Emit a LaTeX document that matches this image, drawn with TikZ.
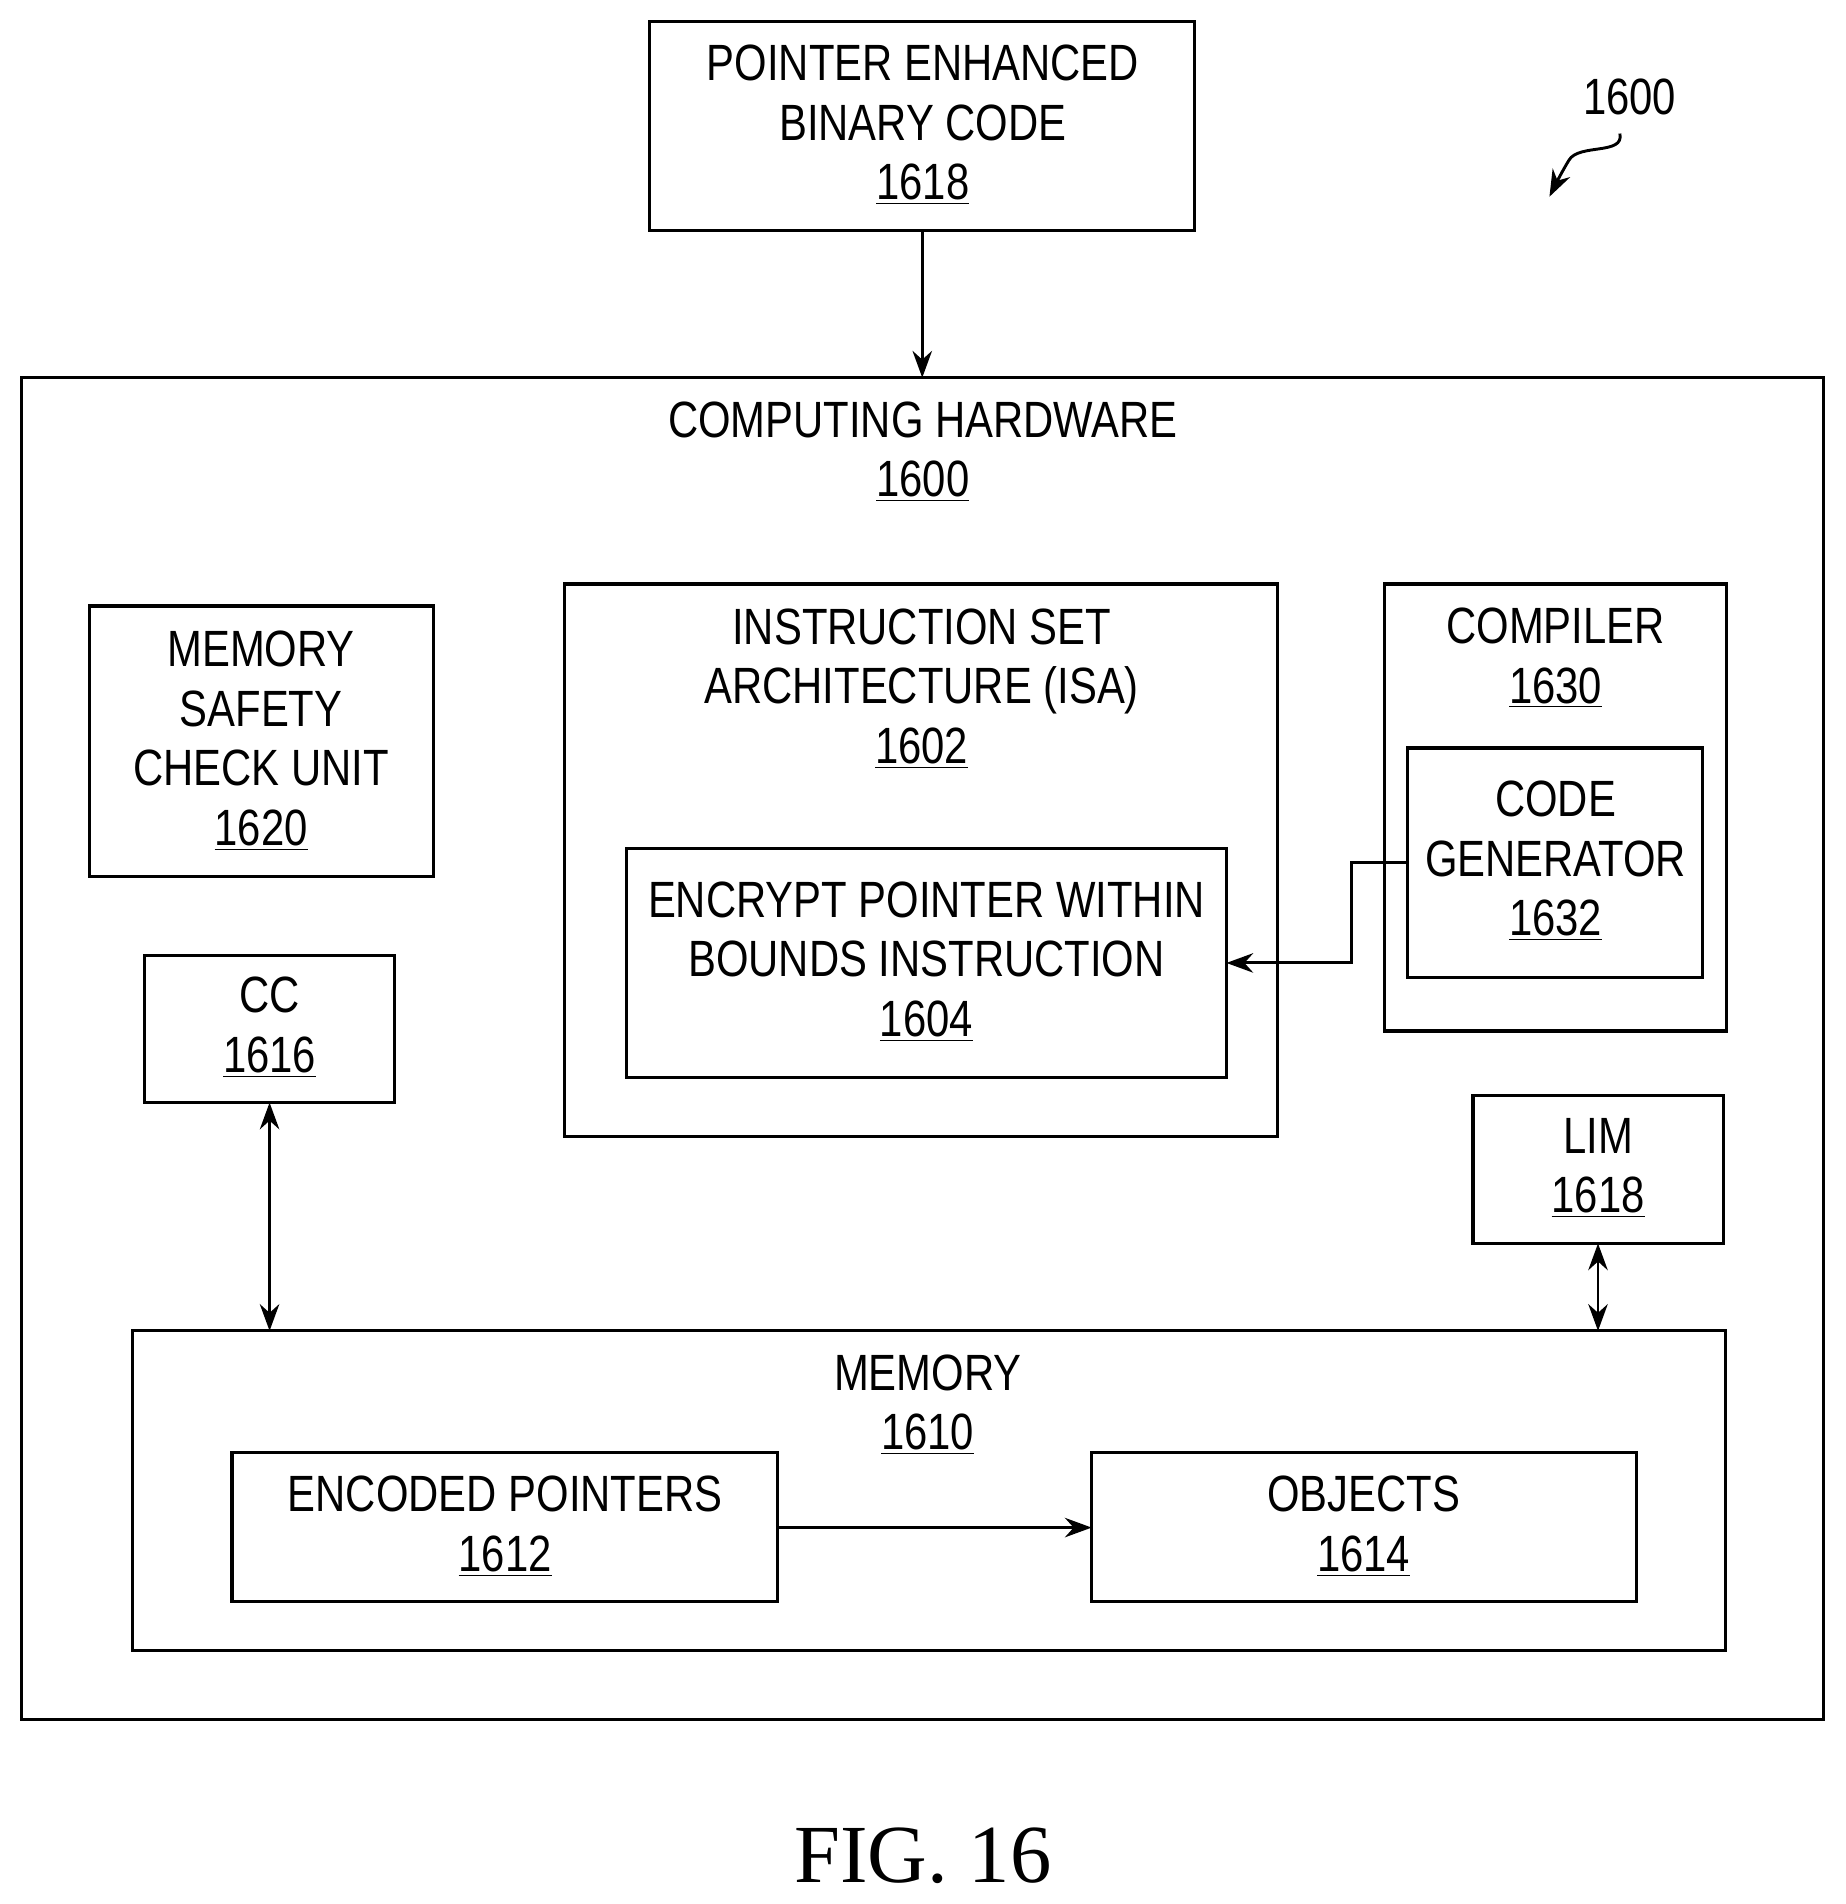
\documentclass[tikz,border=0pt]{standalone}
\usepackage{fontspec}
\setmainfont{Liberation Sans}[FakeStretch=0.82]
\newfontfamily\figfont{Liberation Serif}
\usetikzlibrary{arrows.meta}
\newcommand\bx[5]{\node[box,minimum width={(#4-#2)*0.5pt},minimum height={(#5-#3)*0.5pt}] (#1) at ({(#2+#4)/2},{(#3+#5)/2}) {};}
\begin{document}
\begin{tikzpicture}[x=0.5pt,y=-0.5pt,
  box/.style={draw,line width=1.3pt,inner sep=0pt,outer sep=0pt},
  txt/.style={align=center,font=\fontsize{21}{24.5}\selectfont,inner sep=0pt},
  arr/.style={line width=1.2pt,-{Stealth[length=11pt,width=8pt]}},
  darr/.style={line width=1.2pt,{Stealth[length=11pt,width=8pt]}-{Stealth[length=11pt,width=8pt]}}]
\useasboundingbox (0,0) rectangle (1520,1568);
\bx{pebc}{535}{18}{984}{190}
\node[txt] at (760,103) {POINTER ENHANCED\\BINARY CODE\\\underline{1618}};
\bx{hw}{18}{311}{1502}{1416}
\node[txt] at (760,372) {COMPUTING HARDWARE\\\underline{1600}};
\bx{mscu}{74}{499}{357}{722}
\node[txt] at (215,610) {MEMORY\\SAFETY\\CHECK UNIT\\\underline{1620}};
\bx{isa}{465}{481}{1052}{936}
\node[txt] at (759,567) {INSTRUCTION SET\\ARCHITECTURE (ISA)\\\underline{1602}};
\bx{enc}{516}{699}{1010}{887}
\node[txt] at (763,792) {ENCRYPT POINTER WITHIN\\BOUNDS INSTRUCTION\\\underline{1604}};
\bx{comp}{1140}{481}{1422}{849}
\node[txt] at (1281,542) {COMPILER\\\underline{1630}};
\bx{cg}{1159}{616}{1402}{805}
\node[txt] at (1281,709) {CODE\\GENERATOR\\\underline{1632}};
\bx{cc}{119}{787}{325}{908}
\node[txt] at (222,846) {CC\\\underline{1616}};
\bx{lim}{1213}{902}{1419}{1024}
\node[txt] at (1316,962) {LIM\\\underline{1618}};
\bx{mem}{109}{1096}{1421}{1359}
\node[txt] at (764,1157) {MEMORY\\\underline{1610}};
\bx{ep}{191}{1196}{640}{1319}
\node[txt] at (416,1257) {ENCODED POINTERS\\\underline{1612}};
\bx{obj}{899}{1196}{1348}{1319}
\node[txt] at (1123,1257) {OBJECTS\\\underline{1614}};
\node[txt] (lbl) at (1342,80) {1600};
\coordinate (sq) at (1334,110);
\coordinate (sqe) at (1276,162);
\draw[arr] (sq) .. controls (1338,128) and (1300,118) .. (1292,132) .. controls (1286,142) and (1282,150) .. (sqe);
\node[font=\figfont\fontsize{34}{40}\selectfont] (fig) at (760,1528) {FIG. 16};
\draw[arr] (pebc.south) -- (hw.north -| pebc.south);
\draw[arr] (cg.west |- 0,710) -- (1113,710) -- (1113,793) -- (enc.east |- 0,793);
\draw[darr] (cc.south) -- (cc.south |- mem.north);
\draw[darr] (lim.south) -- (lim.south |- mem.north);
\draw[arr] (ep.east |- 0,1258) -- (obj.west |- 0,1258);
\end{tikzpicture}
\end{document}
